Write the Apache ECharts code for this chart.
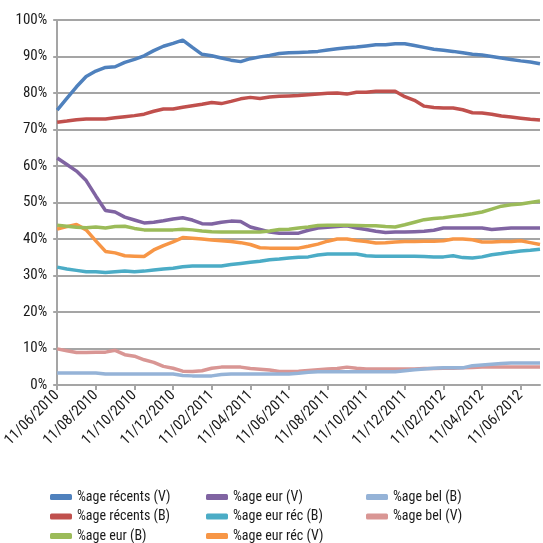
<!DOCTYPE html>
<html>
<head>
<meta charset="utf-8">
<script src="https://cdn.jsdelivr.net/npm/echarts@6/dist/echarts.min.js"></script>
<style>
  html, body { margin: 0; padding: 0; background: #fff; }
  #chart { width: 543px; height: 543px; }
</style>
</head>
<body>
<div id="chart"></div>
<script>
// semi-monthly dates (11th and 26th) from 11/06/2010 to 26/07/2012
var dates = [];
(function () {
  var y = 2010, m = 6;
  while (dates.length < 51) {
    var mm = (m < 10 ? '0' : '') + m;
    dates.push('11/' + mm + '/' + y);
    if (dates.length < 51) dates.push('26/' + mm + '/' + y);
    m++;
    if (m > 12) { m = 1; y++; }
  }
})();

var recentsV = [75.3, 78.5, 81.7, 84.5, 86, 87, 87.2, 88.4, 89.2, 90.2, 91.6, 92.8, 93.6, 94.5, 92.5, 90.6, 90.2, 89.6, 89, 88.6,
  89.4, 89.9, 90.3, 90.8, 91, 91.1, 91.2, 91.4, 91.8, 92.1, 92.4, 92.6, 92.9, 93.2, 93.2, 93.5, 93.5, 93, 92.5, 92,
  91.7, 91.4, 91, 90.6, 90.4, 90, 89.6, 89.2, 88.8, 88.5, 88];
var recentsB = [72, 72.3, 72.7, 72.9, 72.9, 72.9, 73.2, 73.5, 73.8, 74.2, 75, 75.6, 75.6, 76.1, 76.5, 76.9, 77.4, 77.1, 77.7, 78.4,
  78.8, 78.5, 78.9, 79.1, 79.2, 79.3, 79.5, 79.7, 79.9, 80, 79.7, 80.2, 80.2, 80.5, 80.5, 80.5, 79, 78, 76.4, 76,
  75.9, 75.9, 75.4, 74.6, 74.5, 74.2, 73.7, 73.4, 73.1, 72.8, 72.6];
var eurB = [43.8, 43.5, 43.2, 43.1, 43.3, 43, 43.4, 43.5, 42.9, 42.5, 42.5, 42.5, 42.5, 42.7, 42.5, 42.2, 42, 41.9, 41.9, 41.9,
  41.9, 41.9, 42.2, 42.6, 42.7, 43, 43.3, 43.7, 43.8, 43.8, 43.8, 43.7, 43.6, 43.6, 43.4, 43.3, 43.9, 44.6, 45.3, 45.6,
  45.8, 46.2, 46.5, 46.9, 47.4, 48.2, 49, 49.4, 49.6, 50, 50.4];
var eurV = [62.2, 60.4, 58.6, 56, 51.8, 47.8, 47.4, 46, 45.2, 44.4, 44.6, 45, 45.5, 45.8, 45.2, 44.2, 44.1, 44.6, 44.9, 44.8,
  43.3, 42.6, 41.9, 41.6, 41.6, 41.6, 42.4, 43, 43.2, 43.4, 43.6, 43, 42.6, 42.1, 41.8, 41.9, 41.9, 42, 42.1, 42.4,
  43, 43, 43, 43, 43, 42.6, 42.8, 43, 43, 43, 43];
var eurRecB = [32.3, 31.8, 31.4, 31, 31, 30.8, 31, 31.2, 31, 31.2, 31.5, 31.8, 32, 32.4, 32.6, 32.6, 32.6, 32.6, 33, 33.3,
  33.6, 33.9, 34.3, 34.5, 34.8, 35, 35.1, 35.6, 35.9, 35.9, 35.9, 35.9, 35.4, 35.3, 35.3, 35.3, 35.3, 35.3, 35.2, 35.1,
  35.1, 35.4, 34.9, 34.8, 35.1, 35.7, 36, 36.4, 36.7, 36.9, 37.2];
var eurRecV = [42.7, 43.4, 44, 42.5, 39.5, 36.6, 36.2, 35.4, 35.3, 35.2, 37, 38.2, 39.2, 40.4, 40.2, 40, 39.7, 39.5, 39.3, 39,
  38.5, 37.6, 37.5, 37.5, 37.5, 37.5, 38, 38.6, 39.4, 40, 40, 39.6, 39.3, 38.9, 39, 39.2, 39.3, 39.3, 39.4, 39.4,
  39.5, 40, 40, 39.8, 39.2, 39.2, 39.3, 39.3, 39.5, 39, 38.5];
var belB = [3.3, 3.3, 3.3, 3.3, 3.3, 3, 3, 3, 3, 3, 3, 3, 3, 2.6, 2.5, 2.5, 2.5, 2.9, 3, 3,
  3, 3, 3, 3, 3, 3.2, 3.5, 3.6, 3.6, 3.6, 3.6, 3.6, 3.6, 3.6, 3.6, 3.6, 3.9, 4.2, 4.4, 4.6,
  4.7, 4.7, 4.7, 5.3, 5.5, 5.7, 5.9, 6, 6, 6, 6];
var belV = [9.9, 9.4, 8.9, 8.9, 9, 9, 9.5, 8.3, 7.9, 6.9, 6.2, 5.1, 4.6, 3.8, 3.7, 3.9, 4.6, 4.9, 4.9, 4.9,
  4.5, 4.3, 4.1, 3.7, 3.7, 3.8, 4, 4.2, 4.4, 4.5, 4.9, 4.6, 4.4, 4.4, 4.4, 4.4, 4.4, 4.4, 4.5, 4.5,
  4.6, 4.6, 4.7, 4.8, 4.9, 4.9, 4.9, 4.9, 4.9, 4.9, 4.9];

var names = ['%age récents (V)', '%age récents (B)', '%age eur (B)', '%age eur (V)',
  '%age eur réc (B)', '%age eur réc (V)', '%age bel (B)', '%age bel (V)'];
var values = [recentsV, recentsB, eurB, eurV, eurRecB, eurRecV, belB, belV];
var colors = ['#4F81BD', '#C0504D', '#9BBB59', '#8064A2', '#4BACC6', '#F79646', '#95B3D7', '#D99694'];

var font = '"Roboto Condensed", "DejaVu Sans Condensed", sans-serif';

var series = [];
// draw in reverse so the first series sits on top
for (var i = values.length - 1; i >= 0; i--) {
  series.push({
    name: names[i],
    type: 'line',
    data: values[i],
    showSymbol: false,
    lineStyle: { width: 3.5, color: colors[i] },
    itemStyle: { color: colors[i] }
  });
}

function legendCol(left, items) {
  return {
    orient: 'vertical',
    left: left,
    top: 490,
    height: 60,
    padding: 0,
    data: items,
    icon: 'roundRect',
    itemWidth: 22,
    itemHeight: 6,
    itemGap: 5.5,
    textStyle: { fontFamily: font, fontSize: 14, color: '#1a1a1a' }
  };
}

var myChart = echarts.init(document.getElementById('chart'));
myChart.setOption({
  color: colors,
  animation: false,
  grid: { left: 53, top: 20, right: 3, bottom: 158 },
  legend: [
    legendCol(50, names.slice(0, 3)),
    legendCol(206, names.slice(3, 6)),
    legendCol(366, names.slice(6, 8))
  ],
  xAxis: {
    type: 'category',
    data: dates,
    boundaryGap: false,
    axisLine: { lineStyle: { color: '#a5a5a5', width: 2 } },
    axisTick: { interval: 3, length: 5, lineStyle: { color: '#a5a5a5', width: 2 } },
    axisLabel: { interval: 3, rotate: 45, fontFamily: font, fontSize: 15, color: '#1a1a1a', margin: 8 },
    splitLine: { show: false }
  },
  yAxis: {
    type: 'value',
    min: 0,
    max: 100,
    interval: 10,
    axisLine: { show: true, lineStyle: { color: '#a5a5a5', width: 2 } },
    axisTick: { show: true, length: 4, lineStyle: { color: '#a5a5a5', width: 2 } },
    axisLabel: { formatter: '{value}%', fontFamily: font, fontSize: 15, color: '#1a1a1a', margin: 10 },
    splitLine: { lineStyle: { color: '#a5a5a5', width: 2 } }
  },
  series: series
});
</script>
</body>
</html>
